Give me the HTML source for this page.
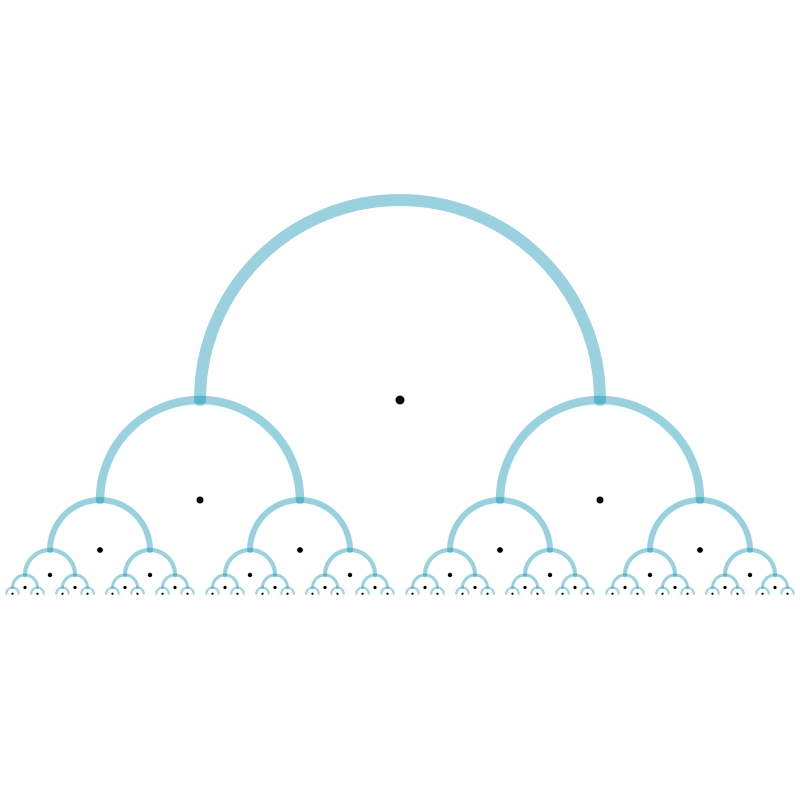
<!DOCTYPE html>
<html><head><meta charset="utf-8"><style>html,body{margin:0;padding:0;background:#fff}svg{display:block}</style></head>
<body>
<svg id="chart" width="800" height="800" viewBox="0 0 800 800" xmlns="http://www.w3.org/2000/svg"></svg>
<script>
const levels = [0, 1, 2, 3, 4, 5];
const strokeWidths = [12, 8.5, 6, 4.2, 3, 2.1];
const dotRadii = [4.5, 3.5, 2.9, 2.2, 1.6, 1.1];
const rootCenter = [400, 400];
const rootRadius = 200;
const NS = 'http://www.w3.org/2000/svg';
const svg = document.getElementById('chart');
const arcs = document.createElementNS(NS, 'g');


const dots = document.createElementNS(NS, 'g');


svg.appendChild(arcs); svg.appendChild(dots);
function draw(cx, cy, r, lvl) {
  if (lvl >= levels.length) return;
  const p = document.createElementNS(NS, 'path');
  p.setAttribute('d', `M${cx - r},${cy} A${r},${r} 0 0 1 ${cx + r},${cy}`);
  p.setAttribute('fill', 'none');
  p.setAttribute('stroke', 'rgba(0,140,175,0.4)');
  p.setAttribute('stroke-width', strokeWidths[lvl]);
  p.setAttribute('stroke-linecap', 'round');
  
  
  arcs.appendChild(p);
  const d = document.createElementNS(NS, 'circle');
  d.setAttribute('cx', cx); d.setAttribute('cy', cy); d.setAttribute('r', dotRadii[lvl]);
  d.setAttribute('fill', '#000');
  
  
  dots.appendChild(d);
  draw(cx - r, cy + r / 2, r / 2, lvl + 1);
  draw(cx + r, cy + r / 2, r / 2, lvl + 1);
}
draw(rootCenter[0], rootCenter[1], rootRadius, 0);
</script>
</body></html>
